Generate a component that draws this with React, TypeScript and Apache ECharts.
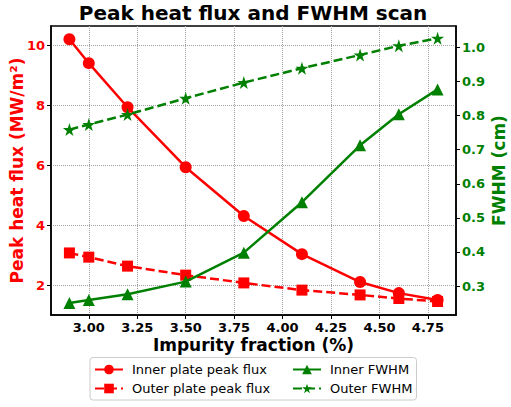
import React, { useEffect, useRef } from 'react';
import * as echarts from 'echarts';

const impurity = [2.9, 3.0, 3.2, 3.5, 3.8, 4.1, 4.4, 4.6, 4.8];
const innerFlux = [10.2, 9.4, 7.93, 5.93, 4.3, 3.03, 2.1, 1.73, 1.5];
const outerFlux = [3.07, 2.93, 2.63, 2.33, 2.07, 1.83, 1.67, 1.55, 1.45];
const innerFwhm = [0.25, 0.259, 0.276, 0.313, 0.398, 0.546, 0.713, 0.804, 0.877];
const outerFwhm = [0.759, 0.774, 0.803, 0.851, 0.897, 0.939, 0.978, 1.005, 1.027];

const xTicks = [3.0, 3.25, 3.5, 3.75, 4.0, 4.25, 4.5, 4.75];
const fluxTicks = [2, 4, 6, 8, 10];
const fwhmTicks = [0.3, 0.4, 0.5, 0.6, 0.7, 0.8, 0.9, 1.0];

const RED = '#ff0000';
const GREEN = '#008000';
const FONT = "'DejaVu Sans', sans-serif";
const STAR =
  'path://M100 0 L122.5 69.1 L195.1 69.1 L136.3 111.8 L158.8 180.9 L100 138.2 L41.2 180.9 L63.7 111.8 L4.9 69.1 L77.5 69.1 Z';

const pairs = (ys: number[]) => impurity.map((x, i) => [x, ys[i]]);

const App = () => {
  const chartRef = useRef<HTMLDivElement>(null);

  useEffect(() => {
    if (!chartRef.current) return;
    const chart = echarts.init(chartRef.current, null, { renderer: 'svg' });

    const legendText = { fontFamily: FONT, fontSize: 13, color: '#000', padding: [0, 0, 0, 4] };

    const option = {
      animation: false,
      textStyle: { fontFamily: FONT },
      title: {
        text: 'Peak heat flux and FWHM scan',
        left: 253,
        textAlign: 'center',
        top: 3,
        padding: 0,
        textStyle: { fontFamily: FONT, fontSize: 20, fontWeight: 'bold', color: '#000' }
      },
      grid: {
        left: 51,
        right: 55,
        top: 26,
        bottom: 92,
        outerBoundsMode: 'none',
        containLabel: false,
        show: true,
        borderColor: '#000',
        borderWidth: 1.5,
        backgroundColor: 'transparent'
      },
      legend: [
        {
          orient: 'vertical',
          left: 94,
          top: 363,
          padding: 0,
          itemWidth: 28,
          itemHeight: 12,
          itemGap: 6,
          textStyle: legendText,
          data: ['Inner plate peak flux', 'Outer plate peak flux']
        },
        {
          orient: 'vertical',
          left: 292,
          top: 363,
          padding: 0,
          itemWidth: 28,
          itemHeight: 12,
          itemGap: 6,
          textStyle: legendText,
          data: ['Inner FWHM', 'Outer FWHM']
        }
      ],
      graphic: [
        {
          type: 'rect',
          shape: { x: 90, y: 357.5, width: 326.5, height: 42.5, r: 3 },
          style: { fill: '#fff', stroke: '#cccccc', lineWidth: 1 },
          z: -1
        }
      ],
      xAxis: {
        type: 'value',
        min: 2.805,
        max: 4.895,
        name: 'Impurity fraction (%)',
        nameLocation: 'middle',
        nameGap: 21,
        nameMoveOverlap: false,
        nameTextStyle: { fontFamily: FONT, fontSize: 17, fontWeight: 'bold', color: '#000' },
        axisLine: { show: true, lineStyle: { color: '#000', width: 1.5 } },
        axisTick: { show: true, inside: false, length: 4, customValues: xTicks, lineStyle: { color: '#000' } },
        axisLabel: {
          customValues: xTicks,
          margin: 6,
          fontFamily: FONT,
          fontSize: 13,
          fontWeight: 'bold',
          color: '#000',
          formatter: (v: number) => v.toFixed(2)
        },
        splitLine: { show: true, lineStyle: { color: '#a0a0a0', type: 'dotted', width: 1 } }
      },
      yAxis: [
        {
          type: 'value',
          position: 'left',
          min: 1.0,
          max: 10.64,
          name: 'Peak heat flux (MW/m²)',
          nameLocation: 'middle',
          nameRotate: 90,
          nameGap: 26,
          nameMoveOverlap: false,
          nameTextStyle: { fontFamily: FONT, fontSize: 17, fontWeight: 'bold', color: RED },
          axisLine: { show: true, lineStyle: { color: '#000', width: 1.5 } },
          axisTick: { show: true, inside: false, length: 4, customValues: fluxTicks, lineStyle: { color: '#000' } },
          axisLabel: {
            customValues: fluxTicks,
            margin: 6,
            fontFamily: FONT,
            fontSize: 13,
            fontWeight: 'bold',
            color: RED
          },
          splitLine: { show: true, lineStyle: { color: '#a0a0a0', type: 'dotted', width: 1 } }
        },
        {
          type: 'value',
          position: 'right',
          min: 0.215,
          max: 1.063,
          name: 'FWHM (cm)',
          nameLocation: 'middle',
          nameRotate: 90,
          nameGap: 34,
          nameMoveOverlap: false,
          nameTextStyle: { fontFamily: FONT, fontSize: 17, fontWeight: 'bold', color: GREEN },
          axisLine: { show: true, lineStyle: { color: '#000', width: 1.5 } },
          axisTick: { show: true, inside: false, length: 4, customValues: fwhmTicks, lineStyle: { color: '#000' } },
          axisLabel: {
            customValues: fwhmTicks,
            margin: 6,
            fontFamily: FONT,
            fontSize: 13,
            fontWeight: 'bold',
            color: GREEN,
            formatter: (v: number) => v.toFixed(1)
          },
          splitLine: { show: false }
        }
      ],
      series: [
        {
          name: 'Inner plate peak flux',
          type: 'line',
          yAxisIndex: 0,
          data: pairs(innerFlux),
          symbol: 'circle',
          symbolSize: 12,
          itemStyle: { color: RED },
          lineStyle: { color: RED, width: 2.5 },
          z: 2
        },
        {
          name: 'Outer plate peak flux',
          type: 'line',
          yAxisIndex: 0,
          data: pairs(outerFlux),
          symbol: 'rect',
          symbolSize: 11,
          itemStyle: { color: RED },
          lineStyle: { color: RED, width: 2.5, type: [9, 4] },
          z: 2
        },
        {
          name: 'Inner FWHM',
          type: 'line',
          yAxisIndex: 1,
          data: pairs(innerFwhm),
          symbol: 'triangle',
          symbolSize: 12,
          itemStyle: { color: GREEN },
          lineStyle: { color: GREEN, width: 2.5 },
          z: 3
        },
        {
          name: 'Outer FWHM',
          type: 'line',
          yAxisIndex: 1,
          data: pairs(outerFwhm),
          symbol: STAR,
          symbolSize: 13,
          itemStyle: { color: GREEN },
          lineStyle: { color: GREEN, width: 2.5, type: [9, 4] },
          z: 3
        }
      ]
    };

    chart.setOption(option);

    return () => {
      chart.dispose();
    };
  }, []);

  return (
    <div
      ref={chartRef}
      style={{ position: 'fixed', left: 0, top: 0, width: 511, height: 407, background: '#fff' }}
    />
  );
};

export default App;
